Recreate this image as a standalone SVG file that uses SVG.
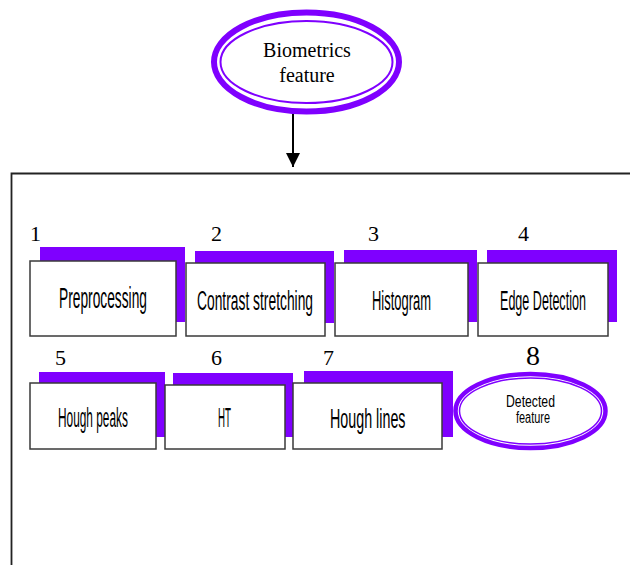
<svg xmlns="http://www.w3.org/2000/svg" width="630" height="565" viewBox="0 0 630 565">
<defs>
<style>
.sh{fill:#7f00ff;}
.bx{fill:#fff;stroke:#3a3a3a;stroke-width:1.5;}
.num{font-family:"Liberation Serif",serif;font-size:22px;fill:#000;}
.lbl{font-family:"Liberation Sans",sans-serif;font-size:28px;fill:#000;}
.ser{font-family:"Liberation Serif",serif;font-size:20px;fill:#000;}
.sm{font-family:"Liberation Sans",sans-serif;font-size:16px;fill:#000;}
.eo{fill:none;stroke:#7f00ff;}
</style>
<marker id="ah" viewBox="0 0 10 10" refX="10" refY="5" markerWidth="14" markerHeight="14" markerUnits="userSpaceOnUse" orient="auto">
<path d="M0,0 L10,5 L0,10 Z" fill="#000"/>
</marker>
</defs>
<rect x="0" y="0" width="630" height="565" fill="#fff"/>
<g id="container">
<path d="M632,173.5 H11.5 V567" fill="none" stroke="#222" stroke-width="1.8"/>
</g>
<g id="biometrics">
<ellipse cx="306.5" cy="62" rx="92.5" ry="49.5" fill="#fff" class="eo" stroke-width="6"/>
<ellipse cx="306.5" cy="62" rx="86" ry="41" class="eo" stroke-width="2"/>
<text class="ser" x="307" y="57" text-anchor="middle">Biometrics</text>
<text class="ser" x="307" y="82" text-anchor="middle">feature</text>
</g>
<g id="connectors">
<line x1="293" y1="114" x2="293" y2="167" stroke="#000" stroke-width="2" marker-end="url(#ah)"/>
</g>
<g id="n1">
<rect class="sh" x="40" y="247" width="145" height="75"/>
<rect class="bx" x="30" y="261" width="146" height="75"/>
<text class="num" x="30" y="241">1</text>
<text class="lbl" style="font-size:30px" transform="translate(59,308) scale(0.459,1)">Preprocessing</text>
</g>
<g id="n2">
<rect class="sh" x="195" y="251" width="139" height="72"/>
<rect class="bx" x="186" y="263" width="139" height="73"/>
<text class="num" x="211" y="241">2</text>
<text class="lbl" transform="translate(197,310) scale(0.494,1)">Contrast stretching</text>
</g>
<g id="n3">
<rect class="sh" x="344" y="250" width="133" height="72"/>
<rect class="bx" x="335" y="263" width="133" height="73"/>
<text class="num" x="368" y="241">3</text>
<text class="lbl" transform="translate(372,310) scale(0.463,1)">Histogram</text>
</g>
<g id="n4">
<rect class="sh" x="487" y="250" width="130" height="72"/>
<rect class="bx" x="478" y="263" width="130" height="73"/>
<text class="num" x="518" y="241">4</text>
<text class="lbl" transform="translate(500,310) scale(0.449,1)">Edge Detection</text>
</g>
<g id="n5">
<rect class="sh" x="39" y="372" width="126" height="65"/>
<rect class="bx" x="30" y="383" width="126" height="66"/>
<text class="num" x="55" y="365">5</text>
<text class="lbl" transform="translate(58,427) scale(0.424,1)">Hough peaks</text>
</g>
<g id="n6">
<rect class="sh" x="173" y="373" width="120" height="64"/>
<rect class="bx" x="165" y="385" width="120" height="64"/>
<text class="num" x="211" y="365">6</text>
<text class="lbl" transform="translate(218,427) scale(0.347,1)">HT</text>
</g>
<g id="n7">
<rect class="sh" x="304" y="371" width="149" height="66"/>
<rect class="bx" x="293" y="383" width="149" height="66"/>
<text class="num" x="323" y="365">7</text>
<text class="lbl" transform="translate(330,428) scale(0.511,1)">Hough lines</text>
</g>
<g id="n8">
<ellipse cx="530.5" cy="411" rx="75" ry="37" fill="#fff" class="eo" stroke-width="4.5"/>
<ellipse cx="530.5" cy="411" rx="71" ry="33" class="eo" stroke-width="1.5"/>
<text class="num" x="526" y="365" style="font-size:28px">8</text>
<text class="sm" transform="translate(506,407) scale(0.765,1)">Detected</text>
<text class="sm" transform="translate(516,423) scale(0.683,1)">feature</text>
</g>
</svg>
